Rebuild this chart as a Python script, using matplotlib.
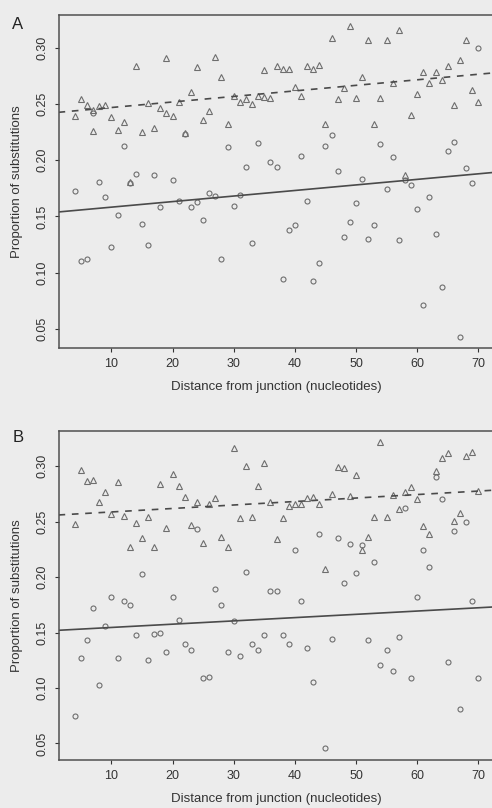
import numpy as np
import matplotlib
matplotlib.use('Agg')
import matplotlib.pyplot as plt

plt.rcParams['font.family'] = ['Liberation Sans', 'DejaVu Sans']

# panel A: triangles (upper series) and circles (lower series)
a_tri_x = [4, 5, 6, 7, 7, 8, 9, 10, 11, 12, 13, 14, 15, 16, 17, 18, 19, 19, 20, 21,
           22, 23, 24, 25, 26, 27, 28, 29, 30, 31, 32, 33, 34, 35, 35, 36, 37, 38, 39, 40,
           41, 42, 43, 44, 45, 46, 47, 48, 49, 50, 51, 52, 53, 54, 55, 56, 57, 58, 59, 60,
           61, 62, 63, 64, 65, 66, 67, 68, 69, 70]
a_tri_y = [0.239, 0.254, 0.249, 0.245, 0.226, 0.248, 0.249, 0.238, 0.227, 0.234,
           0.181, 0.284, 0.225, 0.251, 0.229, 0.246, 0.242, 0.291, 0.239, 0.2515,
           0.224, 0.261, 0.283, 0.236, 0.244, 0.292, 0.274, 0.232, 0.257, 0.252,
           0.254, 0.250, 0.257, 0.256, 0.280, 0.255, 0.284, 0.281, 0.281, 0.265,
           0.257, 0.284, 0.281, 0.285, 0.232, 0.309, 0.254, 0.264, 0.319, 0.255,
           0.274, 0.307, 0.232, 0.255, 0.307, 0.269, 0.316, 0.187, 0.240, 0.259,
           0.278, 0.2685, 0.278, 0.2715, 0.284, 0.249, 0.289, 0.307, 0.262, 0.252]
a_circ_x = [4, 5, 6, 7, 8, 9, 10, 11, 12, 13, 14, 15, 16, 17, 18, 20, 21, 22, 23, 24,
            25, 26, 27, 28, 29, 30, 31, 32, 33, 34, 36, 37, 38, 39, 40, 41, 42, 43, 44, 45,
            46, 47, 48, 49, 50, 51, 52, 53, 54, 55, 56, 57, 58, 59, 60, 61, 62, 63, 64, 65,
            66, 67, 68, 69, 70]
a_circ_y = [0.173, 0.110, 0.112, 0.242, 0.181, 0.167, 0.123, 0.151, 0.213, 0.180,
            0.1875, 0.143, 0.125, 0.187, 0.158, 0.182, 0.164, 0.223, 0.158, 0.163,
            0.147, 0.171, 0.168, 0.112, 0.212, 0.159, 0.169, 0.194, 0.126, 0.215,
            0.198, 0.194, 0.094, 0.138, 0.142, 0.204, 0.164, 0.093, 0.109, 0.213,
            0.222, 0.190, 0.132, 0.145, 0.162, 0.183, 0.130, 0.142, 0.214, 0.174,
            0.203, 0.129, 0.182, 0.178, 0.157, 0.071, 0.167, 0.134, 0.087, 0.208,
            0.216, 0.043, 0.193, 0.180, 0.300]

# panel B
b_x = list(range(4, 71))
b_tri_y = [0.248, 0.297, 0.287, 0.288, 0.268, 0.277, 0.257, 0.286, 0.255, 0.227,
           0.249, 0.235, 0.254, 0.227, 0.284, 0.244, 0.293, 0.282, 0.272, 0.247,
           0.268, 0.231, 0.266, 0.271, 0.236, 0.227, 0.316, 0.253, 0.300, 0.254,
           0.282, 0.303, 0.268, 0.234, 0.253, 0.264, 0.266, 0.266, 0.271, 0.272,
           0.266, 0.2075, 0.275, 0.299, 0.298, 0.273, 0.292, 0.224, 0.236, 0.254,
           0.322, 0.254, 0.274, 0.261, 0.277, 0.281, 0.270, 0.246, 0.239, 0.296,
           0.307, 0.312, 0.251, 0.258, 0.309, 0.313, 0.278]
b_circ_y = [0.075, 0.127, 0.143, 0.172, 0.103, 0.156, 0.182, 0.127, 0.178, 0.175,
            0.148, 0.203, 0.125, 0.149, 0.150, 0.132, 0.182, 0.161, 0.140, 0.134,
            0.243, 0.109, 0.110, 0.189, 0.175, 0.132, 0.160, 0.129, 0.205, 0.140,
            0.134, 0.148, 0.187, 0.187, 0.148, 0.140, 0.224, 0.178, 0.136, 0.105,
            0.239, 0.046, 0.144, 0.235, 0.195, 0.230, 0.204, 0.229, 0.143, 0.214,
            0.121, 0.134, 0.115, 0.146, 0.262, 0.109, 0.182, 0.224, 0.209, 0.290,
            0.270, 0.123, 0.242, 0.081, 0.250, 0.178, 0.109]

# fitted lines (intercept, slope) as drawn in the figure
a_tri_fit = (0.2419, 0.000493)
a_circ_fit = (0.1533, 0.000494)
b_tri_fit = (0.2556, 0.000314)
b_circ_fit = (0.1516, 0.000296)

yticks = [0.05, 0.10, 0.15, 0.20, 0.25, 0.30]
xticks = [10, 20, 30, 40, 50, 60, 70]

bg = '#ececec'
ink = '#333333'
mk = '#6e6e6e'

fig = plt.figure(figsize=(4.92, 8.08), dpi=100, facecolor=bg)
axA = fig.add_axes([0.119, 0.5693, 0.886, 0.412])
axB = fig.add_axes([0.119, 0.0594, 0.886, 0.4075])


def panel(ax, tx, ty, cx, cy, tfit, cfit, ylim, letter, ly):
    ax.set_facecolor(bg)
    ax.plot(tx, ty, linestyle='none', marker='^', markersize=4.6,
            markerfacecolor='none', markeredgecolor=mk, markeredgewidth=0.8)
    ax.plot(cx, cy, linestyle='none', marker='o', markersize=3.6,
            markerfacecolor='none', markeredgecolor=mk, markeredgewidth=0.8)
    xl = np.array([1.36, 72.64])
    ax.plot(xl, tfit[0] + tfit[1] * xl, color='#4a4a4a', lw=1.2,
            linestyle=(0, (4, 4)))
    ax.plot(xl, cfit[0] + cfit[1] * xl, color='#4a4a4a', lw=1.2)
    ax.set_xlim(xl)
    ax.set_ylim(ylim)
    ax.set_xticks(xticks)
    ax.set_yticks(yticks)
    ax.set_yticklabels(['%.2f' % v for v in yticks], rotation=90, va='center')
    ax.tick_params(colors=ink, labelsize=9, length=3, width=0.8, pad=4)
    for s in ax.spines.values():
        s.set_color('#505050')
        s.set_linewidth(1.1)
    ax.set_xlabel('Distance from junction (nucleotides)', fontsize=9.5, color=ink,
                  labelpad=8)
    ax.set_ylabel('Proportion of substitutions', fontsize=9.5, color=ink)
    ax.yaxis.set_label_coords(-0.082, 0.5)
    ax.text(-0.093, ly, letter, transform=ax.transAxes, fontsize=12, color='#222222',
            ha='center', va='center')


panel(axA, a_tri_x, a_tri_y, a_circ_x, a_circ_y, a_tri_fit, a_circ_fit,
      (0.033, 0.329), 'A', 0.973)
panel(axB, b_x, b_tri_y, b_x, b_circ_y, b_tri_fit, b_circ_fit,
      (0.035, 0.332), 'B', 0.978)

fig.savefig('out.png', dpi=100, facecolor=bg)
